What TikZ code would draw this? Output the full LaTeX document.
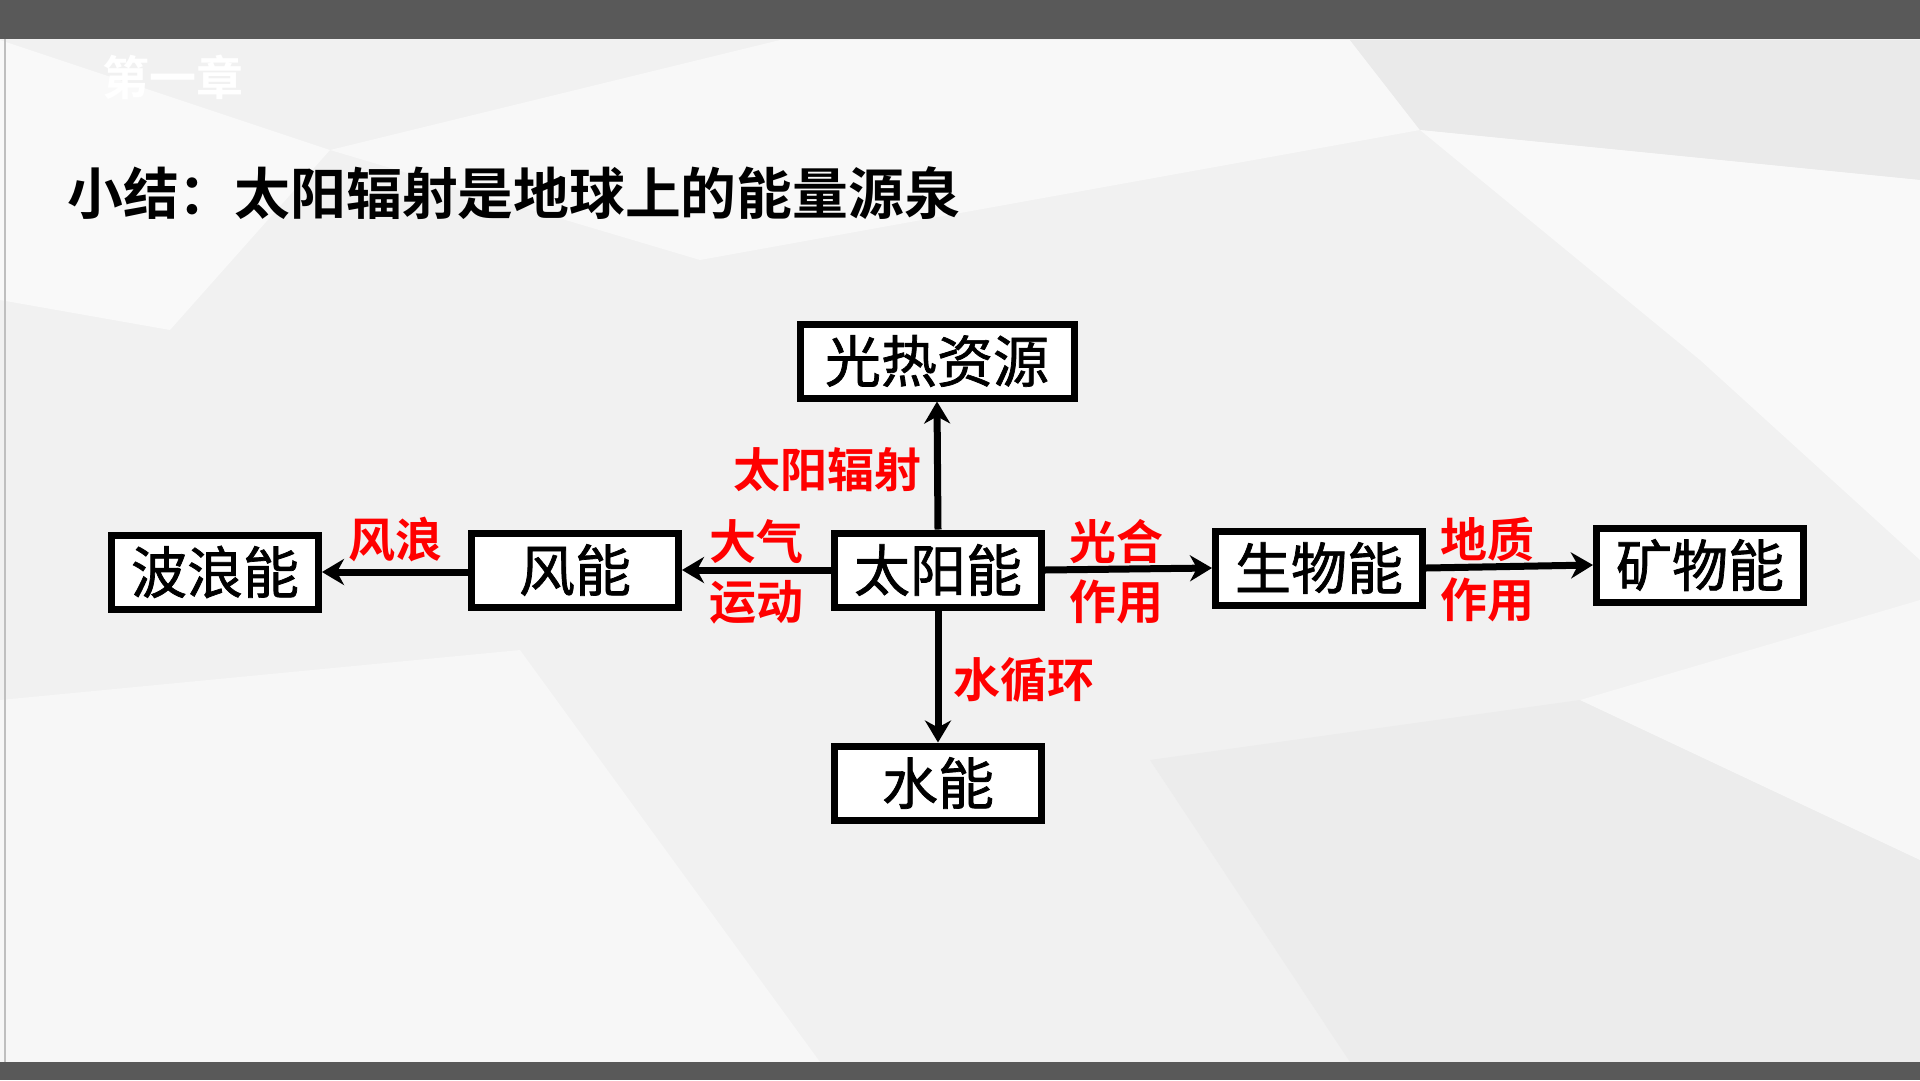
\documentclass[tikz,border=0pt]{standalone}
\usepackage{fontspec}
\newfontfamily\cjk{Noto Sans CJK SC}[BoldFont=* Bold]
\newfontfamily\cjkm{Noto Sans CJK SC}[FakeBold=1.3]
\usetikzlibrary{arrows.meta}
\definecolor{barcol}{HTML}{595959}
\definecolor{bgcol}{HTML}{F1F1F1}
\definecolor{labred}{HTML}{FF0000}
\tikzset{
  box/.style={draw=black, line width=7pt, fill=white, minimum width=207pt, minimum height=74pt,
              inner sep=0pt, font=\cjkm\fontsize{56}{60}\selectfont, text=black},
  conn/.style={line width=7pt, -{Stealth[length=22pt,width=26pt,inset=7pt]}},
  lab/.style={text=labred, inner sep=0pt, align=center, font=\cjk\bfseries\fontsize{47}{60}\selectfont},
}
\begin{document}
\begin{tikzpicture}[x=1pt,y=-1pt]
\useasboundingbox (0,0) rectangle (1920,1080);
% background
\fill[bgcol] (0,0) rectangle (1920,1080);
\fill[white!60!bgcol] (0,40) -- (330,150) -- (170,330) -- (0,300) -- cycle;
\fill[white!50!bgcol] (330,150) -- (780,40) -- (1350,40) -- (1420,130) -- (700,260) -- cycle;
\fill[black!3!bgcol] (1350,40) -- (1920,40) -- (1920,180) -- (1420,130) -- cycle;
\fill[white!55!bgcol] (1420,130) -- (1920,180) -- (1920,560) -- (1700,360) -- cycle;
\fill[white!40!bgcol] (0,700) -- (520,650) -- (820,1062) -- (0,1062) -- cycle;
\fill[black!2!bgcol] (1150,760) -- (1580,700) -- (1920,860) -- (1920,1062) -- (1350,1062) -- cycle;
\fill[white!45!bgcol] (1580,700) -- (1920,600) -- (1920,860) -- cycle;
% bars
\fill[barcol] (0,0) rectangle (1920,39);
\fill[barcol] (0,1062) rectangle (1920,1080);
\draw[black!25, line width=2pt] (5,39) -- (5,1062);
% ghost heading
\node[anchor=west, text=white, inner sep=0pt, font=\cjk\bfseries\fontsize{47}{50}\selectfont] (ghost) at (102,77) {第一章};
% title
\node[anchor=west, inner sep=0pt, font=\cjk\bfseries\fontsize{55.8}{60}\selectfont] (title) at (67,193) {小结：太阳辐射是地球上的能量源泉};
% boxes
\node[box, minimum width=274pt] (guangre) at (937,361) {光热资源};
\node[box] (taiyang) at (938,570) {太阳能};
\node[box] (feng) at (575,570) {风能};
\node[box] (bolang) at (215,572) {波浪能};
\node[box] (shengwu) at (1319,568) {生物能};
\node[box] (kuangwu) at (1700,565) {矿物能};
\node[box] (shui) at (938,783) {水能};
% connectors
\draw[conn] (taiyang.north) -- (guangre.south);
\draw[conn] (taiyang.west) -- (feng.east);
\draw[conn] (feng.west |- bolang.east) -- (bolang.east);
\draw[conn] (taiyang.east) -- (shengwu.west);
\draw[conn] (shengwu.east) -- (kuangwu.west);
\draw[conn] (taiyang.south) -- (shui.north);
% labels
\node[lab, anchor=east] (l1) at (922,470) {太阳辐射};
\node[lab] (l2) at (756,572) {大气\\运动};
\node[lab] (l3) at (395,540) {风浪};
\node[lab] (l4) at (1116,572) {光合\\作用};
\node[lab] (l5) at (1487,570) {地质\\作用};
\node[lab, anchor=west] (l6) at (953,680) {水循环};
\end{tikzpicture}
\end{document}
